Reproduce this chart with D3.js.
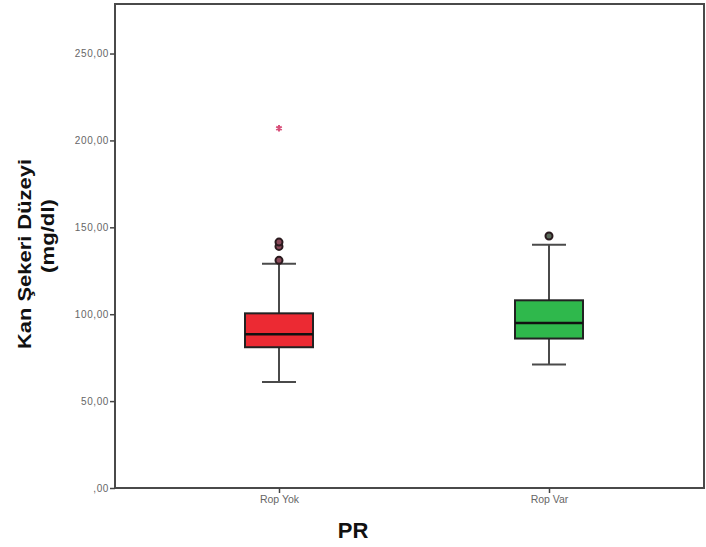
<!DOCTYPE html>
<html>
<head>
<meta charset="utf-8">
<script src="https://cdn.jsdelivr.net/npm/d3@7"></script>
<style>
  body { margin: 0; background: #fff; }
  svg { display: block; }
</style>
</head>
<body>
<div id="chart"></div>
<script>
"use strict";

// data
const categories = ["Rop Yok", "Rop Var"];
const whiskerLow = [61, 71];
const q1 = [81, 86];
const median = [88.5, 95];
const q3 = [100.5, 108];
const whiskerHigh = [129, 140];
const outliers = [[131, 139, 141.5], [145]];
const extremes = [[207], []];
const yTicks = [0, 50, 100, 150, 200, 250];
const boxColors = ["#ec2a33", "#2fb84c"];
const outlierFill = ["#8a4a5a", "#5a6a5a"];

function init() {
    draw();
}
window.onload = init;

function draw() {
    const width = 706, height = 547;
    const margin = {top: 4, right: 2, bottom: 59, left: 115};
    const w = width - margin.left - margin.right,
          h = height - margin.top - margin.bottom;

    const svg = d3.select("#chart")
        .append("svg")
        .attr("width", width)
        .attr("height", height);

    const g = svg.append("g")
        .attr("transform", `translate(${margin.left}, ${margin.top})`);

    const y = d3.scaleLinear()
        .domain([0, 278.5])
        .range([h, 0]);

    const x = d3.scalePoint()
        .domain(categories)
        .range([164, 434]);

    // frame
    g.append("rect")
        .attr("x", 0).attr("y", 0)
        .attr("width", w).attr("height", h)
        .attr("fill", "none")
        .attr("stroke", "#4a4a4a")
        .attr("stroke-width", 2);

    // y axis
    const fmt = d => d === 0 ? ",00" : d3.format(".2f")(d).replace(".", ",");
    const yAxis = g.append("g")
        .call(d3.axisLeft(y).tickValues(yTicks).tickFormat(fmt).tickSize(5).tickPadding(1));
    yAxis.select(".domain").remove();
    yAxis.selectAll("line").attr("stroke", "#444").attr("stroke-width", 1.5);
    yAxis.selectAll("text")
        .attr("fill", "#666")
        .style("font-family", "Arial, 'Liberation Sans', sans-serif")
        .style("font-size", "10px")
        .style("letter-spacing", "0.6px");

    // x axis
    const xAxis = g.append("g")
        .attr("transform", `translate(0, ${h})`)
        .call(d3.axisBottom(x).tickSize(5).tickPadding(3));
    xAxis.select(".domain").remove();
    xAxis.selectAll("line").attr("stroke", "#444").attr("stroke-width", 1.5);
    xAxis.selectAll("text")
        .attr("fill", "#666")
        .style("font-family", "Arial, 'Liberation Sans', sans-serif")
        .style("font-size", "10.5px");

    const boxW = 68, capW = 34;

    const boxes = g.append("g")
        .selectAll("g")
        .data(categories)
        .enter()
        .append("g")
        .attr("transform", d => `translate(${x(d)}, 0)`);

    // whiskers
    boxes.append("line")
        .attr("x1", 0).attr("x2", 0)
        .attr("y1", (d, i) => y(whiskerLow[i]))
        .attr("y2", (d, i) => y(whiskerHigh[i]))
        .attr("stroke", "#4a4a4a").attr("stroke-width", 2);
    boxes.append("line")
        .attr("x1", -capW / 2).attr("x2", capW / 2)
        .attr("y1", (d, i) => y(whiskerLow[i]))
        .attr("y2", (d, i) => y(whiskerLow[i]))
        .attr("stroke", "#4a4a4a").attr("stroke-width", 2);
    boxes.append("line")
        .attr("x1", -capW / 2).attr("x2", capW / 2)
        .attr("y1", (d, i) => y(whiskerHigh[i]))
        .attr("y2", (d, i) => y(whiskerHigh[i]))
        .attr("stroke", "#4a4a4a").attr("stroke-width", 2);

    // boxes
    boxes.append("rect")
        .attr("x", -boxW / 2)
        .attr("y", (d, i) => y(q3[i]))
        .attr("width", boxW)
        .attr("height", (d, i) => y(q1[i]) - y(q3[i]))
        .attr("fill", (d, i) => boxColors[i])
        .attr("stroke", "#222")
        .attr("stroke-width", 2);

    // median
    boxes.append("line")
        .attr("x1", -boxW / 2).attr("x2", boxW / 2)
        .attr("y1", (d, i) => y(median[i]))
        .attr("y2", (d, i) => y(median[i]))
        .attr("stroke", "#111").attr("stroke-width", 2.5);

    // outliers and extremes
    boxes.each(function(d, i) {
        d3.select(this).selectAll("circle")
            .data(outliers[i])
            .enter().append("circle")
            .attr("cx", 0)
            .attr("cy", v => y(v))
            .attr("r", 3.5)
            .attr("fill", outlierFill[i])
            .attr("stroke", "#2a1a1e")
            .attr("stroke-width", 2);

        d3.select(this).selectAll("path.extreme")
            .data(extremes[i])
            .enter().append("path")
            .attr("class", "extreme")
            .attr("d", d3.symbol(d3.symbolAsterisk || d3.symbolCross, 28))
            .attr("transform", v => `translate(0, ${y(v)})`)
            .attr("stroke", "#d8507a")
            .attr("stroke-width", 2)
            .attr("fill", "#d8507a");
    });

    // axis titles
    const title = svg.append("g")
        .style("font-family", "Arial, 'Liberation Sans', sans-serif")
        .style("font-weight", "bold")
        .attr("fill", "#111");

    title.append("text")
        .attr("transform", "translate(31, 254) rotate(-90)")
        .attr("text-anchor", "middle")
        .attr("textLength", 190)
        .attr("lengthAdjust", "spacingAndGlyphs")
        .style("font-size", "18px")
        .text("Kan Şekeri Düzeyi");

    title.append("text")
        .attr("transform", "translate(54, 236) rotate(-90)")
        .attr("text-anchor", "middle")
        .attr("textLength", 74)
        .attr("lengthAdjust", "spacingAndGlyphs")
        .style("font-size", "18px")
        .text("(mg/dl)");

    title.append("text")
        .attr("x", 353)
        .attr("y", 538)
        .attr("text-anchor", "middle")
        .style("font-size", "22px")
        .text("PR");
}
</script>
</body>
</html>
